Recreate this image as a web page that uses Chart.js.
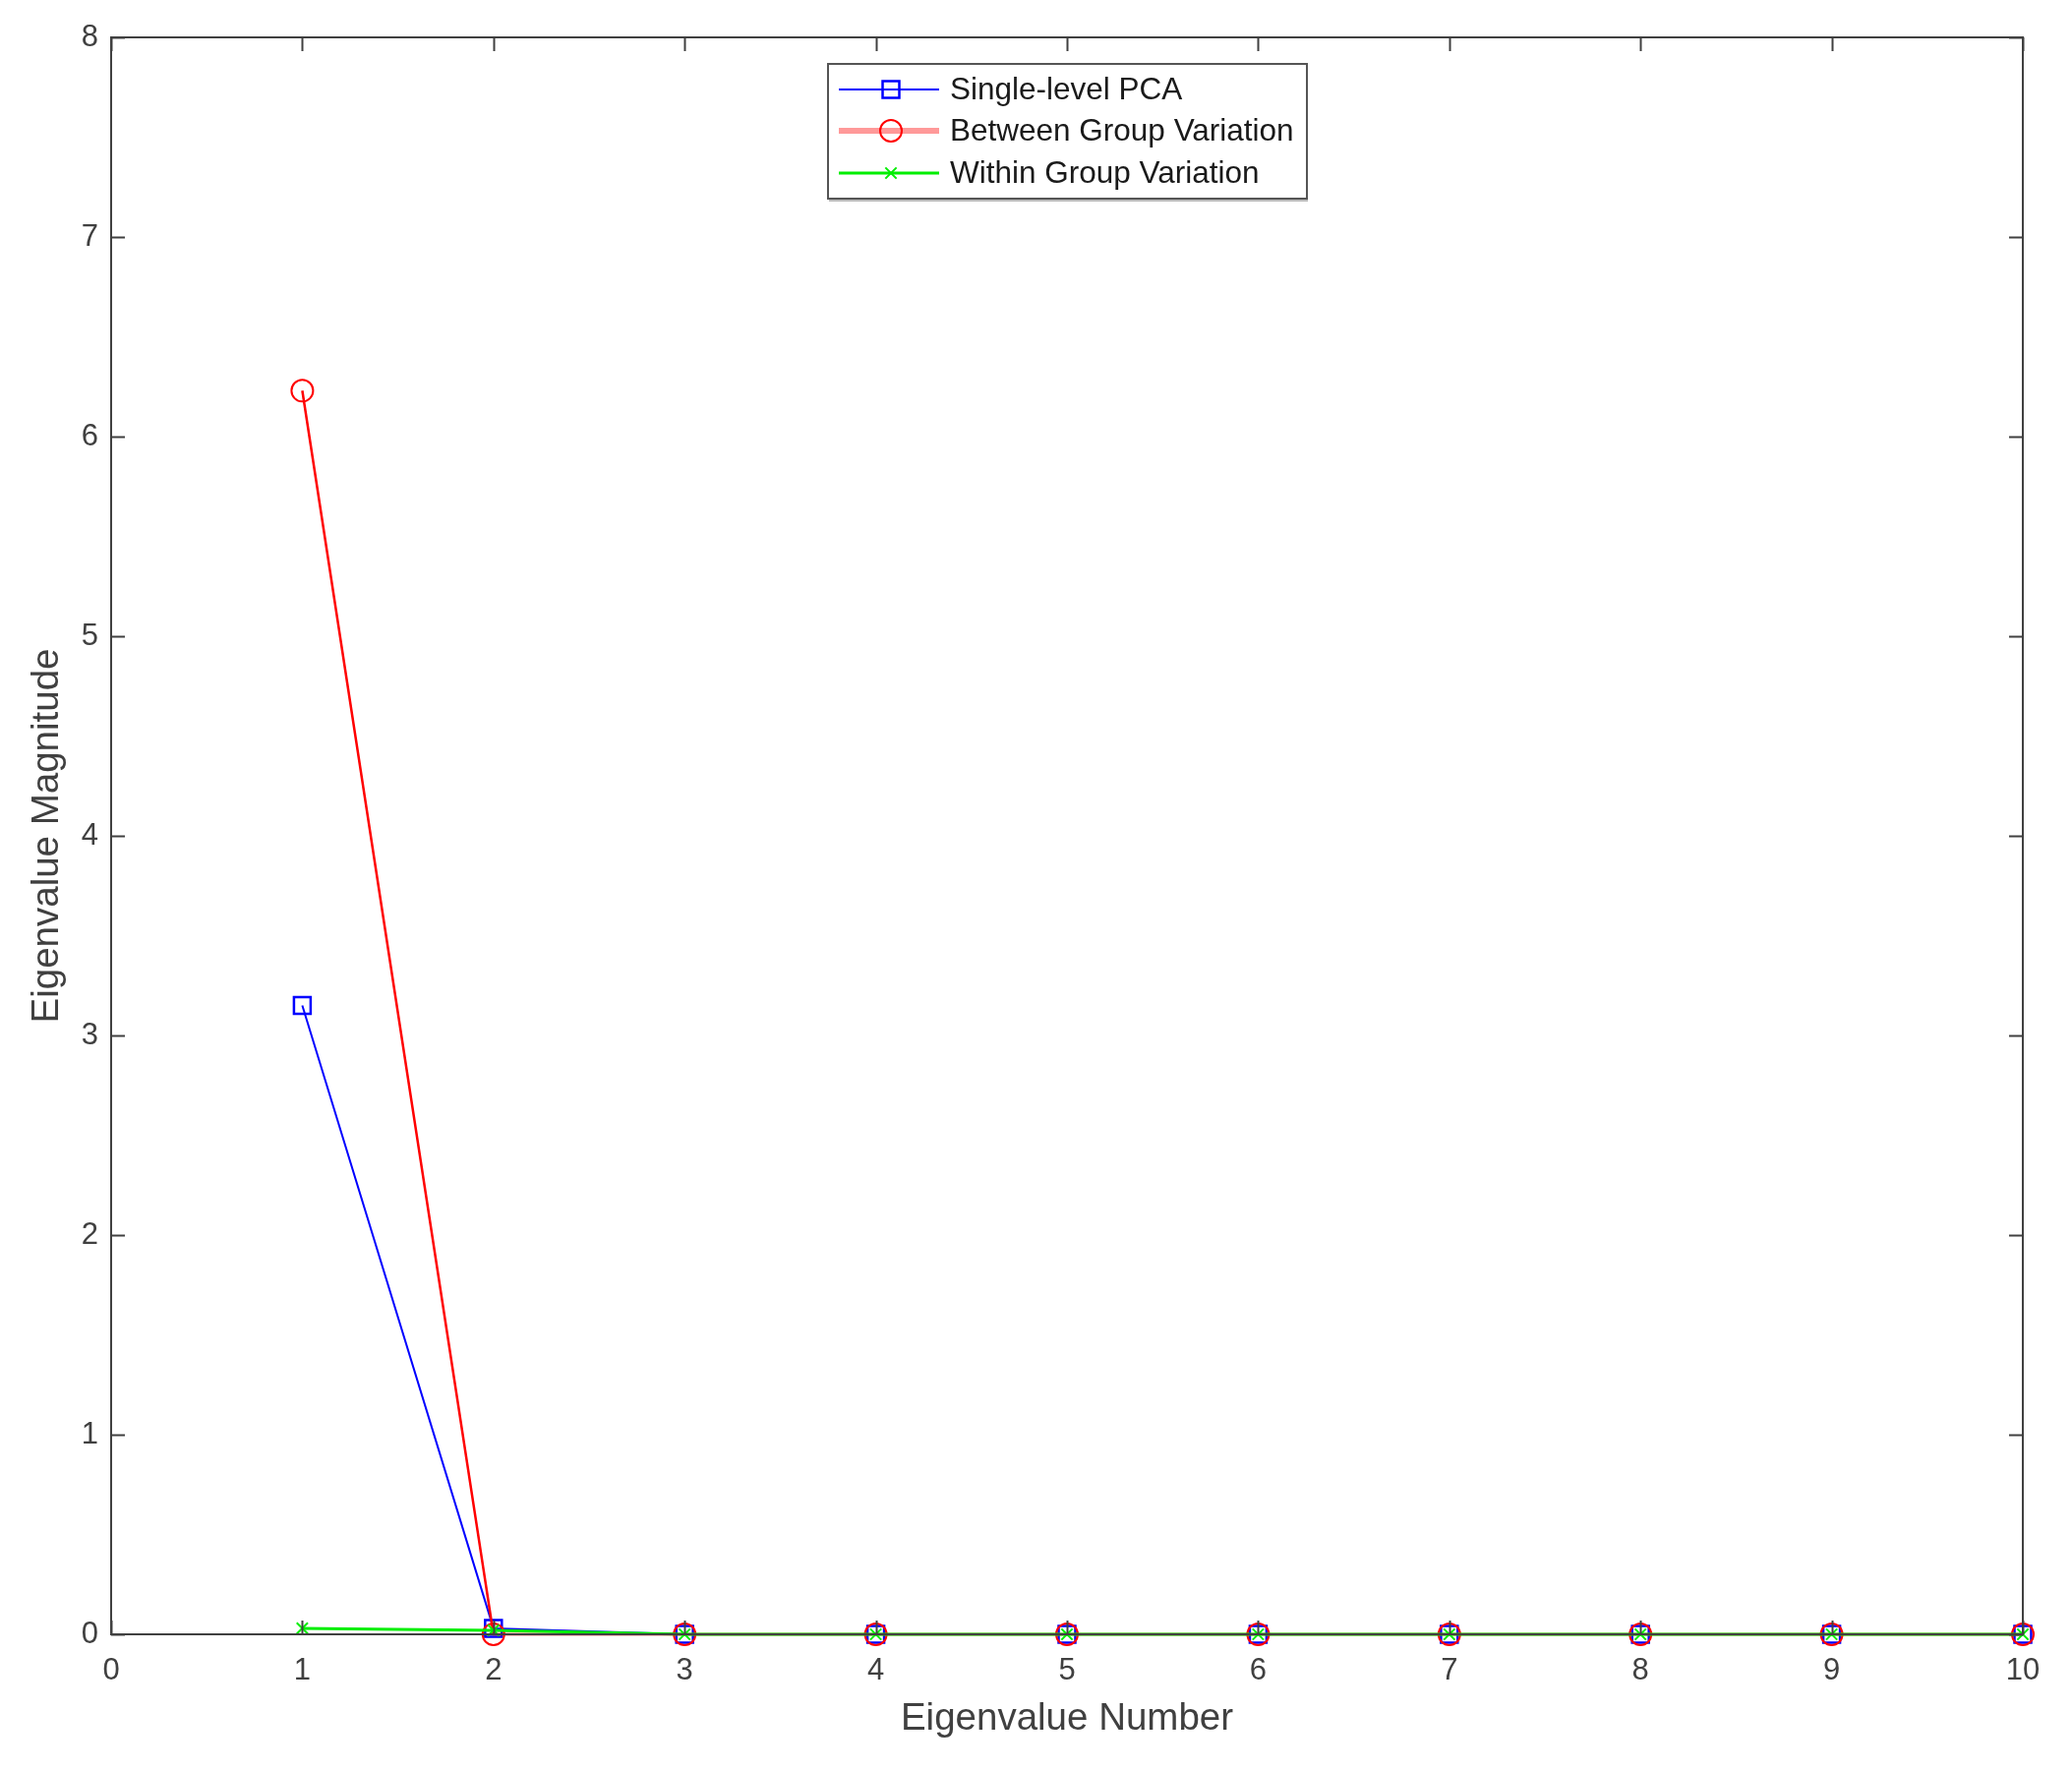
<!DOCTYPE html>
<html>
<head>
<meta charset="utf-8">
<script src="https://cdn.jsdelivr.net/npm/chart.js@4"></script>
<style>
html,body{margin:0;padding:0;background:#fff;}
#wrap{position:relative;width:2107px;height:1801px;}
</style>
</head>
<body>
<div id="wrap"><canvas id="c" width="2107" height="1801"></canvas></div>
<script>
const eigenNumbers = [1, 2, 3, 4, 5, 6, 7, 8, 9, 10];
const singleLevelPCA = [3.15, 0.03, 0, 0, 0, 0, 0, 0, 0, 0];
const betweenGroup = [6.23, 0, 0, 0, 0, 0, 0, 0, 0, 0];
const withinGroup = [0.03, 0.02, 0, 0, 0, 0, 0, 0, 0, 0];
const seriesLabels = ['Single-level PCA', 'Between Group Variation', 'Within Group Variation'];
const xTicks = [0,1,2,3,4,5,6,7,8,9,10];
const yTicks = [0,1,2,3,4,5,6,7,8];

const pts = arr => eigenNumbers.map((x, i) => ({x, y: arr[i]}));
const AX = '#404040';
const FONT = "'Liberation Sans', Arial, Helvetica, sans-serif";

const boxTicks = {
  id: 'boxTicks',
  afterDraw(chart) {
    const {ctx, chartArea: a, scales: {x, y}} = chart;
    const L = 14;
    ctx.save();
    ctx.strokeStyle = AX;
    ctx.lineWidth = 2;
    ctx.beginPath();
    xTicks.forEach(v => {
      const px = Math.round(x.getPixelForValue(v)) + 0.5;
      ctx.moveTo(px, a.bottom); ctx.lineTo(px, a.bottom - L);
      ctx.moveTo(px, a.top); ctx.lineTo(px, a.top + L);
    });
    yTicks.forEach(v => {
      const py = Math.round(y.getPixelForValue(v)) + 0.5;
      ctx.moveTo(a.left, py); ctx.lineTo(a.left + L, py);
      ctx.moveTo(a.right, py); ctx.lineTo(a.right - L, py);
    });
    ctx.stroke();
    ctx.strokeRect(a.left, a.top, a.right - a.left, a.bottom - a.top);
    ctx.restore();
  }
};

const boxLegend = {
  id: 'boxLegend',
  afterDraw(chart) {
    const {ctx} = chart;
    const bx = 842, by = 65, bw = 487, bh = 137;
    ctx.save();
    ctx.fillStyle = '#fff';
    ctx.fillRect(bx, by, bw, bh);
    ctx.strokeStyle = '#555';
    ctx.lineWidth = 2;
    ctx.strokeRect(bx, by, bw, bh);
    ctx.strokeStyle = '#bbb';
    ctx.beginPath(); ctx.moveTo(bx + 1, by + bh + 2); ctx.lineTo(bx + bw + 1, by + bh + 2); ctx.stroke();
    const rows = [91, 133, 176];
    chart.data.datasets.forEach((ds, i) => {
      const cy = rows[i];
      ctx.strokeStyle = ds.borderColor;
      ctx.lineWidth = i === 1 ? 6 : ds.borderWidth;
      ctx.globalAlpha = i === 1 ? 0.4 : 1;
      ctx.beginPath(); ctx.moveTo(853, cy); ctx.lineTo(955, cy); ctx.stroke();
      ctx.globalAlpha = 1;
      ctx.strokeStyle = ds.borderColor;
      ctx.fillStyle = 'rgba(0,0,0,0)';
      ctx.lineWidth = ds.pointBorderWidth;
      Chart.helpers.drawPoint(ctx, {pointStyle: ds.pointStyle, radius: ds.pointRadius, borderWidth: ds.pointBorderWidth, rotation: 0}, 906, cy);
      ctx.fillStyle = '#1a1a1a';
      ctx.font = '31.5px ' + FONT;
      ctx.textBaseline = 'middle';
      ctx.textAlign = 'left';
      ctx.fillText(ds.label, 966, cy + 1);
    });
    ctx.restore();
  }
};

new Chart(document.getElementById('c'), {
  type: 'line',
  data: {
    datasets: [
      {label: seriesLabels[0], data: pts(singleLevelPCA), borderColor: '#0000ff', backgroundColor: 'rgba(0,0,0,0)',
       borderWidth: 2, pointStyle: 'rect', pointRadius: 12, pointBorderWidth: 2.5, clip: false, order: 2},
      {label: seriesLabels[1], data: pts(betweenGroup), borderColor: '#ff0000', backgroundColor: 'rgba(0,0,0,0)',
       borderWidth: 2.5, pointStyle: 'circle', pointRadius: 11, pointBorderWidth: 2, clip: false, order: 1},
      {label: seriesLabels[2], data: pts(withinGroup), borderColor: '#00ee00', backgroundColor: 'rgba(0,0,0,0)',
       borderWidth: 3, pointStyle: 'crossRot', pointRadius: 8, pointBorderWidth: 2, clip: false, order: 0}
    ]
  },
  options: {
    responsive: false,
    animation: false,
    layout: {padding: {top: 38, right: 50, left: 0, bottom: 0}},
    plugins: {legend: {display: false}, tooltip: {enabled: false}},
    elements: {line: {tension: 0}},
    scales: {
      x: {
        type: 'linear', min: 0, max: 10,
        afterBuildTicks: s => { s.ticks = xTicks.map(v => ({value: v})); },
        afterFit: s => { s.height = 139; },
        grid: {display: false, drawTicks: false},
        border: {display: false},
        ticks: {color: AX, font: {family: FONT, size: 31}, padding: 19, maxRotation: 0},
        title: {display: true, text: 'Eigenvalue Number', color: AX, font: {family: FONT, size: 38.5}, padding: {top: 0, bottom: 30}}
      },
      y: {
        type: 'linear', min: 0, max: 8,
        afterBuildTicks: s => { s.ticks = yTicks.map(v => ({value: v})); },
        afterFit: s => { s.width = 113; },
        grid: {display: false, drawTicks: false},
        border: {display: false},
        ticks: {color: AX, font: {family: FONT, size: 31}, padding: 13},
        title: {display: true, text: 'Eigenvalue Magnitude', color: AX, font: {family: FONT, size: 38.5}, padding: {top: 25, bottom: 0}}
      }
    }
  },
  plugins: [boxTicks, boxLegend]
});
</script>
</body>
</html>
